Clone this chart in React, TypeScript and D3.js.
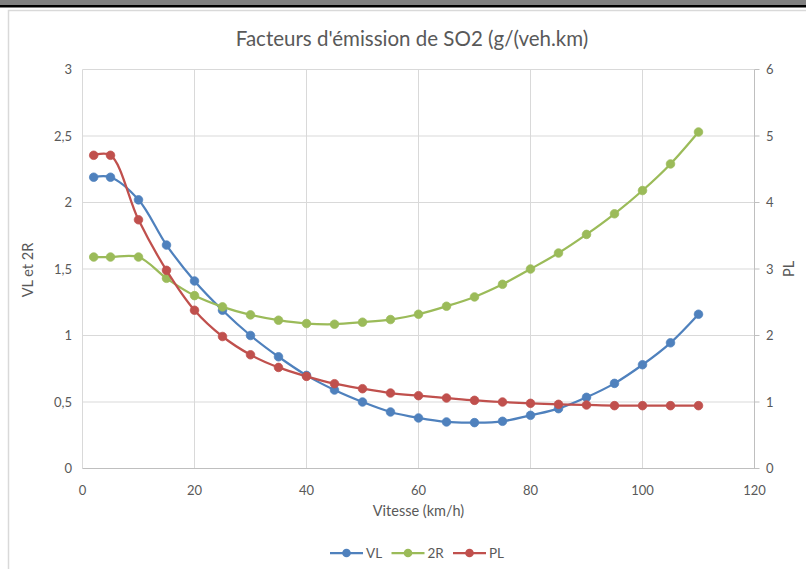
import React from "react";
import * as d3 from "d3";

const speeds = [2, 5, 10, 15, 20, 25, 30, 35, 40, 45, 50, 55, 60, 65, 70, 75, 80, 85, 90, 95, 100, 105, 110];
const vlValues = [2.19, 2.19, 2.02, 1.68, 1.41, 1.19, 1.0, 0.84, 0.7, 0.59, 0.5, 0.425, 0.38, 0.35, 0.345, 0.355, 0.4, 0.45, 0.535, 0.64, 0.78, 0.945, 1.16];
const r2Values = [1.59, 1.59, 1.59, 1.43, 1.3, 1.215, 1.155, 1.115, 1.09, 1.085, 1.1, 1.12, 1.16, 1.22, 1.29, 1.385, 1.5, 1.62, 1.76, 1.915, 2.09, 2.29, 2.53];
const plValues = [4.71, 4.71, 3.74, 2.98, 2.38, 1.985, 1.71, 1.52, 1.385, 1.275, 1.2, 1.135, 1.095, 1.06, 1.025, 1.0, 0.98, 0.965, 0.955, 0.945, 0.945, 0.945, 0.945];

const xTicks = [0, 20, 40, 60, 80, 100, 120];
const leftTicks = [0, 0.5, 1, 1.5, 2, 2.5, 3];
const rightTicks = [0, 1, 2, 3, 4, 5, 6];

const title = "Facteurs d'émission de SO2 (g/(veh.km)";
const xTitle = "Vitesse (km/h)";
const leftTitle = "VL et 2R";
const rightTitle = "PL";

const seriesDefs = [
  { name: "VL", values: vlValues, axis: "left", color: "#4F81BD" },
  { name: "2R", values: r2Values, axis: "left", color: "#9BBB59" },
  { name: "PL", values: plValues, axis: "right", color: "#C0504D" },
];

const FONT = "Lato, 'Open Sans', sans-serif";
const TXT = "#595959";

export default function App() {
  const W = 806, H = 569;
  const x = d3.scaleLinear().domain([0, 120]).range([82.5, 754.5]);
  const yL = d3.scaleLinear().domain([0, 3]).range([468.5, 69.5]);
  const yR = d3.scaleLinear().domain([0, 6]).range([468.5, 69.5]);
  const fmt = (v: number) => String(v).replace(".", ",");

  return (
    <svg width={W} height={H} style={{ position: "absolute", left: 0, top: 0, background: "#fff" }}>
      <rect x={0} y={0} width={W} height={H} fill="#fff" />
      <rect x={0} y={0} width={W} height={5} fill="#808080" />
      <rect x={0} y={5} width={W} height={2.5} fill="#000" />
      <path d={`M8.5,${H} V10.5 H${W}`} fill="none" stroke="#d9d9d9" strokeWidth={1.5} />

      <text x={412} y={46} textAnchor="middle" fontFamily={FONT} fontSize={20.5} fill={TXT}>{title}</text>

      {/* gridlines */}
      {leftTicks.slice(1).map((t) => (
        <line key={"h" + t} x1={x(0)} x2={x(120)} y1={yL(t)} y2={yL(t)} stroke="#d9d9d9" strokeWidth={1} />
      ))}
      {xTicks.slice(0, -1).map((t) => (
        <line key={"v" + t} x1={x(t)} x2={x(t)} y1={yL(0)} y2={yL(3)} stroke="#d9d9d9" strokeWidth={1} />
      ))}
      {/* axes */}
      <line x1={x(0)} x2={x(120) + 4} y1={yL(0)} y2={yL(0)} stroke="#bfbfbf" strokeWidth={1} />
      <line x1={x(120)} x2={x(120)} y1={yL(0)} y2={yL(3)} stroke="#bfbfbf" strokeWidth={1} />
      {rightTicks.map((t) => (
        <line key={"rt" + t} x1={x(120)} x2={x(120) + 5} y1={yR(t)} y2={yR(t)} stroke="#bfbfbf" strokeWidth={1} />
      ))}

      {/* tick labels */}
      {leftTicks.map((t) => (
        <text key={"lt" + t} x={72} y={yL(t)} dy="0.35em" textAnchor="end" fontFamily={FONT} fontSize={13} fill={TXT}>{fmt(t)}</text>
      ))}
      {rightTicks.map((t) => (
        <text key={"rl" + t} x={766} y={yR(t)} dy="0.35em" textAnchor="start" fontFamily={FONT} fontSize={13} fill={TXT}>{fmt(t)}</text>
      ))}
      {xTicks.map((t) => (
        <text key={"xt" + t} x={x(t)} y={490} dy="0.35em" textAnchor="middle" fontFamily={FONT} fontSize={13} fill={TXT}>{fmt(t)}</text>
      ))}

      <text x={x(60)} y={511} dy="0.35em" textAnchor="middle" fontFamily={FONT} fontSize={14.5} fill={TXT}>{xTitle}</text>
      <text transform={`translate(28,270) rotate(-90)`} textAnchor="middle" dy="0.35em" fontFamily={FONT} fontSize={14.5} fill={TXT}>{leftTitle}</text>
      <text transform={`translate(789,269) rotate(-90)`} textAnchor="middle" dy="0.35em" fontFamily={FONT} fontSize={14.5} fill={TXT}>{rightTitle}</text>

      {/* series */}
      {seriesDefs.map((s) => {
        const y = s.axis === "left" ? yL : yR;
        const pts: [number, number][] = speeds.map((v, i) => [x(v), y(s.values[i])]);
        const line = d3.line().curve(d3.curveCatmullRom.alpha(0.5))(pts) || "";
        return (
          <g key={s.name}>
            <path d={line} fill="none" stroke={s.color} strokeWidth={2.25} strokeLinejoin="round" />
            {pts.map((p, i) => (
              <circle key={i} cx={p[0]} cy={p[1]} r={4.3} fill={s.color} stroke={s.color} strokeWidth={0.75} />
            ))}
          </g>
        );
      })}

      {/* legend */}
      {seriesDefs.map((s, i) => {
        const lx = 330 + i * 61.5;
        return (
          <g key={"lg" + s.name}>
            <line x1={lx} x2={lx + 33} y1={553} y2={553} stroke={s.color} strokeWidth={2.25} />
            <circle cx={lx + 16.5} cy={553} r={4.3} fill={s.color} />
            <text x={lx + 36} y={553} dy="0.35em" fontFamily={FONT} fontSize={13.5} fill={TXT}>{s.name}</text>
          </g>
        );
      })}
    </svg>
  );
}
